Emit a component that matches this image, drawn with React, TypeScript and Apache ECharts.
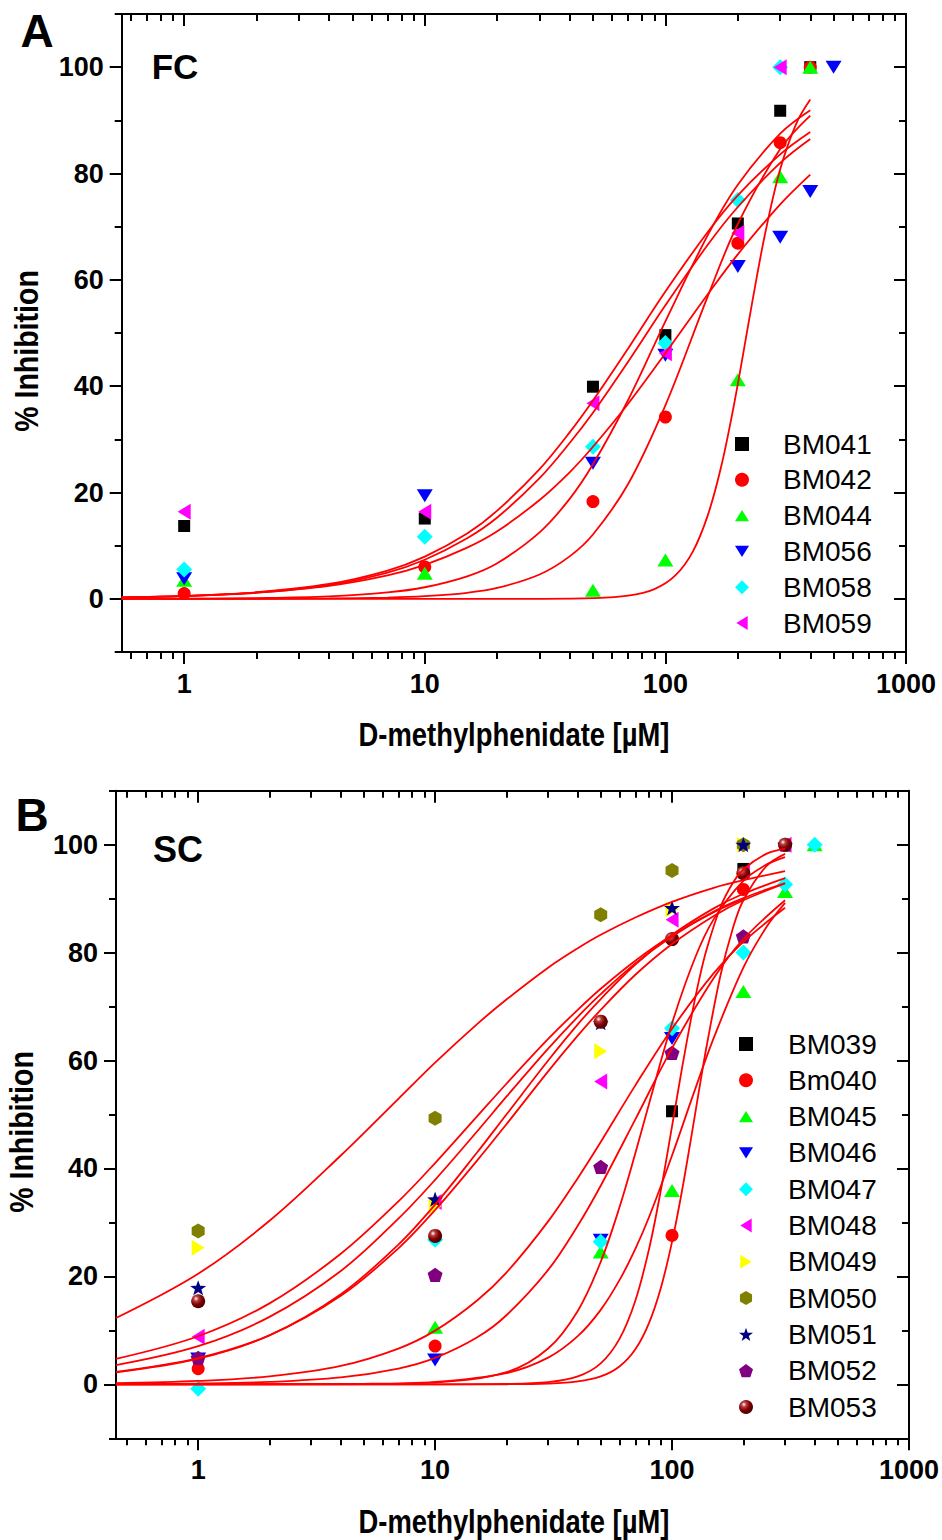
import React, { useEffect, useRef } from 'react';
import * as echarts from 'echarts';

// ---------------- Panel A (FC) measured data ----------------
const FC_NAMES = ['BM041', 'BM042', 'BM044', 'BM056', 'BM058', 'BM059'];
const FC_BM041_X = [1, 10, 50, 100, 200, 300, 400];
const FC_BM041_Y = [13.7, 15.1, 39.9, 49.6, 70.6, 91.8, 100];
const FC_BM042_X = [1, 10, 50, 100, 200, 300, 400];
const FC_BM042_Y = [1.0, 6.0, 18.3, 34.2, 66.9, 85.8, 100];
const FC_BM044_X = [1, 10, 50, 100, 200, 300, 400];
const FC_BM044_Y = [3.5, 4.8, 1.6, 7.3, 41.2, 79.4, 100];
const FC_BM056_X = [1, 10, 50, 100, 200, 300, 400, 500];
const FC_BM056_Y = [3.8, 19.4, 25.5, 45.8, 62.5, 68.0, 76.6, 100];
const FC_BM058_X = [1, 10, 50, 100, 200, 300];
const FC_BM058_Y = [5.5, 11.7, 28.6, 48.1, 75.0, 100];
const FC_BM059_X = [1, 10, 50, 100, 200, 300];
const FC_BM059_Y = [16.4, 16.4, 36.8, 46.2, 68.8, 100];

// Panel A fitted curves
const FC_FIT_X = [0.55, 1, 2, 4, 7, 10, 15, 20, 30, 40, 50, 70, 100, 150, 200, 300, 400];
const FC_FIT1_Y = [0.27, 0.54, 1.24, 2.79, 5.32, 7.95, 12.3, 16.6, 24.4, 31.3, 37.3, 47.1, 57.8, 69.0, 75.9, 83.6, 87.8];
const FC_FIT2_Y = [0.25, 0.51, 1.16, 2.6, 4.95, 7.36, 11.4, 15.3, 22.7, 29.3, 35.0, 44.6, 55.2, 66.6, 73.7, 82.0, 86.5];
const FC_FIT3_Y = [0.28, 0.54, 1.15, 2.43, 4.4, 6.38, 9.62, 12.7, 18.6, 23.8, 28.6, 36.7, 46.2, 57.3, 64.8, 74.2, 79.8];
const FC_FIT4_Y = [0.02, 0.05, 0.15, 0.47, 1.2, 2.18, 4.24, 6.7, 12.5, 18.8, 25.3, 37.4, 52.2, 68.4, 77.9, 87.5, 91.9];
const FC_FIT5_Y = [0.0, 0.0, 0.02, 0.08, 0.24, 0.5, 1.14, 2.04, 4.58, 7.99, 12.1, 21.6, 36.4, 56.9, 70.5, 84.6, 90.9];
const FC_FIT6_X = [0.55, 10, 30, 50, 70, 90, 110, 130, 150, 170, 190, 210, 230, 260, 300, 350, 400];
const FC_FIT6_Y = [0.0, 0.0, 0.01, 0.13, 0.6, 1.83, 4.4, 8.89, 15.7, 24.6, 35.0, 45.8, 56.0, 68.8, 80.8, 89.4, 93.9];

// ---------------- Panel B (SC) measured data ----------------
const SC_NAMES = ['BM039', 'Bm040', 'BM045', 'BM046', 'BM047', 'BM048', 'BM049', 'BM050', 'BM051', 'BM052', 'BM053'];
const SC_BM039_X = [100, 200];
const SC_BM039_Y = [50.6, 95.5];
const SC_BM040_X = [1, 10, 100, 200];
const SC_BM040_Y = [2.9, 7.1, 27.6, 91.7];
const SC_BM045_X = [10, 50, 100, 200, 300, 400];
const SC_BM045_Y = [10.6, 24.5, 35.9, 72.8, 91.3, 100];
const SC_BM046_X = [1, 10, 50, 100];
const SC_BM046_Y = [4.7, 4.5, 26.7, 64.1];
const SC_BM047_X = [1, 10, 50, 100, 200, 300, 400];
const SC_BM047_Y = [-0.8, 26.8, 26.4, 66.0, 80.0, 92.6, 100];
const SC_BM048_X = [1, 10, 50, 100, 200, 300];
const SC_BM048_Y = [8.8, 33.8, 56.1, 86.1, 95.0, 100];
const SC_BM049_X = [1, 10, 50, 100, 200];
const SC_BM049_Y = [25.3, 33.0, 61.7, 88.0, 100];
const SC_BM050_X = [1, 10, 50, 100, 200];
const SC_BM050_Y = [28.4, 49.3, 87.0, 95.2, 100];
const SC_BM051_X = [1, 10, 50, 100, 200];
const SC_BM051_Y = [17.9, 34.3, 67.0, 88.3, 100];
const SC_BM052_X = [1, 10, 50, 100, 200, 300];
const SC_BM052_Y = [4.9, 20.3, 40.3, 61.4, 83.0, 100];
const SC_BM053_X = [1, 10, 50, 100, 200, 300];
const SC_BM053_Y = [15.4, 27.5, 67.2, 82.5, 94.7, 100];

// Panel B fitted curves
const SC_FIT_X = [0.45, 1, 2, 4, 7, 10, 15, 20, 30, 40, 50, 70, 100, 150, 200, 300];
const SC_FIT_OLIVE_Y = [12.3, 20.5, 30.3, 42.4, 52.9, 59.6, 66.7, 71.3, 77.2, 80.8, 83.3, 86.5, 89.4, 92.0, 93.4, 95.1];
const SC_FIT_STAR_X = [0.45, 1, 2, 4, 7, 10, 15, 20, 30, 40, 50, 70, 100, 150, 200];
const SC_FIT_STAR_Y = [4.72, 8.91, 15.0, 24.2, 33.9, 41.0, 49.6, 55.7, 64.0, 69.4, 73.3, 78.5, 83.2, 87.5, 89.9];
const SC_FIT_YELLOW_Y = [3.57, 7.08, 12.5, 21.0, 30.7, 37.9, 46.8, 53.3, 62.2, 68.1, 72.3, 78.0, 83.0, 87.6, 90.1, 92.9];
const SC_FIT_MAGENTA_Y = [2.2, 4.76, 9.09, 16.7, 25.9, 33.3, 42.9, 50.0, 60.0, 66.7, 71.4, 77.8, 83.3, 88.2, 90.9, 93.8];
const SC_FIT_SPHERE_Y = [2.3, 4.85, 9.08, 16.4, 25.2, 32.3, 41.4, 48.2, 58.0, 64.6, 69.4, 75.9, 81.6, 86.8, 89.7, 92.8];
const SC_FIT_PURPLE_Y = [0.23, 0.63, 1.48, 3.42, 6.63, 9.95, 15.5, 20.7, 30.2, 38.2, 44.9, 55.4, 65.9, 76.2, 82.0, 88.3];
const SC_FIT_BLUE_Y = [0.05, 0.16, 0.45, 1.28, 2.92, 4.89, 8.66, 12.8, 21.2, 29.4, 36.8, 49.1, 62.3, 75.3, 82.5, 89.7];
const SC_FIT_X2 = [0.45, 5, 10, 20, 30, 40, 50, 60, 70, 80, 100, 125, 150, 200, 250, 300];
const SC_FIT_CYAN_Y = [0.0, 0.05, 0.33, 2.25, 6.63, 13.6, 22.7, 32.8, 42.8, 52.0, 66.9, 79.0, 86.2, 93.3, 96.3, 97.7];
const SC_FIT_GREEN_Y = [0.0, 0.1, 0.46, 2.09, 4.94, 8.92, 13.8, 19.3, 25.1, 31.0, 42.4, 54.6, 64.2, 77.2, 84.7, 89.2];
const SC_FIT_X3 = [0.45, 5, 10, 20, 30, 40, 50, 60, 70, 80, 90, 100, 110, 120, 130, 140, 160, 180, 200, 250, 300];
const SC_FIT_RED_Y = [0.0, 0.0, 0.0, 0.02, 0.14, 0.53, 1.46, 3.31, 6.49, 11.4, 18.1, 26.4, 35.7, 45.3, 54.5, 62.7, 75.7, 84.3, 89.7, 96.0, 98.3];
const SC_FIT_BLACK_Y = [0.0, 0.0, 0.0, 0.07, 0.4, 1.46, 3.89, 8.42, 15.5, 25.1, 36.3, 47.8, 58.4, 67.5, 74.9, 80.6, 88.4, 92.8, 95.4, 98.3, 99.2];

// ---------------- Axes ticks ----------------
const X_MAJOR = [1, 10, 100, 1000];
const X_MINOR_ALL = [0.4, 0.5, 0.6, 0.7, 0.8, 0.9, 2, 3, 4, 5, 6, 7, 8, 9, 20, 30, 40, 50, 60, 70, 80, 90, 200, 300, 400, 500, 600, 700, 800, 900];
const Y_MAJOR = [0, 20, 40, 60, 80, 100];
const FC_XMIN = 0.55;
const SC_XMIN = 0.45;

const FONT = "'Liberation Sans', Arial, Helvetica, sans-serif";

const HEXAGON = 'path://M0,-10 L8.66,-5 L8.66,5 L0,10 L-8.66,5 L-8.66,-5 Z';
const PENTAGON = 'path://M0,-10 L9.511,-3.09 L5.878,8.09 L-5.878,8.09 L-9.511,-3.09 Z';
const STAR = 'path://M0,-10 L2.351,-3.236 L9.511,-3.09 L3.804,1.236 L5.878,8.09 L0,4 L-5.878,8.09 L-3.804,1.236 L-9.511,-3.09 L-2.351,-3.236 Z';
const TRI_UP = 'path://M0,-6.5 L8,6.5 L-8,6.5 Z';
const TRI_DOWN = 'path://M-8,-6.5 L8,-6.5 L0,6.5 Z';
const TRI_LEFT = 'path://M6.5,-8 L6.5,8 L-6.5,0 Z';
const TRI_RIGHT = 'path://M-6.5,-8 L-6.5,8 L6.5,0 Z';
const SQUARE = 'path://M-6,-6 L6,-6 L6,6 L-6,6 Z';
const DIAMOND = 'path://M0,-8 L8,0 L0,8 L-8,0 Z';

const SPHERE = {
  type: 'radial', x: 0.35, y: 0.32, r: 0.7,
  colorStops: [
    { offset: 0, color: '#ffffff' },
    { offset: 0.25, color: '#b84040' },
    { offset: 0.6, color: '#800000' },
    { offset: 1, color: '#4a0000' },
  ],
};

const pts = (xs: number[], ys: number[]) => xs.map((x, i) => [x, ys[i]]);

function scatter(name: string, xs: number[], ys: number[], symbol: string, size: any, color: any, rotate: number, axis: number, keep = false) {
  return {
    type: 'scatter', name, data: pts(xs, ys), symbol, symbolSize: size, symbolRotate: rotate,
    symbolKeepAspect: keep,
    itemStyle: { color, opacity: 1 },
    xAxisIndex: axis, yAxisIndex: axis, z: 3, silent: true,
    emphasis: { disabled: true },
  };
}

function fit(name: string, xs: number[], ys: number[], axis: number) {
  return {
    type: 'line', name, data: pts(xs, ys), showSymbol: false, symbol: 'none', smooth: 0.35,
    lineStyle: { color: '#FF0000', width: 1.8 },
    xAxisIndex: axis, yAxisIndex: axis, z: 4, silent: true,
    emphasis: { disabled: true },
  };
}

const AXIS_LINE = { show: true, onZero: false, lineStyle: { color: '#000', width: 2 } };
const NO_LINE = { show: false, onZero: false };
const TICK_STYLE = { color: '#000', width: 2 };
const LABEL_FONT = { color: '#000', fontFamily: FONT, fontWeight: 'bold', fontSize: 27 };

function xAxes(grid: number, min: number) {
  const minor = X_MINOR_ALL.filter((v) => v > min);
  const base = { type: 'log', logBase: 10, min, max: 1000, gridIndex: grid, splitLine: { show: false }, minorTick: { show: false } };
  return [
    {
      ...base, position: 'bottom', axisLine: AXIS_LINE,
      axisTick: { show: true, inside: false, length: 12, lineStyle: TICK_STYLE, customValues: X_MAJOR },
      axisLabel: {
        show: true, customValues: X_MAJOR, margin: 18.5, ...LABEL_FONT,
        formatter: (v: number) => String(Math.round(v)),
      },
    },
    {
      ...base, position: 'bottom', axisLine: NO_LINE,
      axisTick: { show: true, inside: false, length: 7, lineStyle: TICK_STYLE, customValues: minor },
      axisLabel: { show: false },
    },
    {
      ...base, position: 'top', axisLine: AXIS_LINE,
      axisTick: { show: true, inside: true, length: 12, lineStyle: TICK_STYLE, customValues: X_MAJOR },
      axisLabel: { show: false },
    },
    {
      ...base, position: 'top', axisLine: NO_LINE,
      axisTick: { show: true, inside: true, length: 7, lineStyle: TICK_STYLE, customValues: minor },
      axisLabel: { show: false },
    },
  ];
}

function yAxes(grid: number) {
  const base = { type: 'value', min: -10, max: 110, gridIndex: grid, splitLine: { show: false } };
  return [
    {
      ...base, position: 'left', axisLine: AXIS_LINE,
      axisTick: { show: true, inside: false, length: 12, lineStyle: TICK_STYLE, customValues: Y_MAJOR },
      axisLabel: { show: true, customValues: Y_MAJOR, margin: 18, ...LABEL_FONT },
    },
    {
      ...base, position: 'left', interval: 10, axisLine: NO_LINE,
      axisTick: { show: true, inside: false, length: 7, lineStyle: TICK_STYLE },
      axisLabel: { show: false },
    },
    {
      ...base, position: 'right', axisLine: AXIS_LINE,
      axisTick: { show: true, inside: true, length: 12, lineStyle: TICK_STYLE, customValues: Y_MAJOR },
      axisLabel: { show: false },
    },
    {
      ...base, position: 'right', interval: 10, axisLine: NO_LINE,
      axisTick: { show: true, inside: true, length: 7, lineStyle: TICK_STYLE },
      axisLabel: { show: false },
    },
  ];
}

function legend(items: any[], left: number, top: number, gap: number, pad: number) {
  return {
    data: items, orient: 'vertical', left, top, padding: 0, itemWidth: 14, itemHeight: 14, itemGap: gap,
    selectedMode: false,
    textStyle: { fontFamily: FONT, fontSize: 28, color: '#000', padding: [0, 0, 0, pad] },
  };
}

function text(t: string, x: number, y: number, font: string, rotation = 0, scaleX = 1) {
  return {
    type: 'text', x, y, rotation, scaleX, silent: true,
    style: { text: t, font, fill: '#000', textAlign: 'center', textVerticalAlign: 'middle' },
  };
}

function buildOption() {
  const series: any[] = [
    // Panel A fits
    fit('FC fit 1', FC_FIT_X, FC_FIT1_Y, 0),
    fit('FC fit 2', FC_FIT_X, FC_FIT2_Y, 0),
    fit('FC fit 3', FC_FIT_X, FC_FIT3_Y, 0),
    fit('FC fit 4', FC_FIT_X, FC_FIT4_Y, 0),
    fit('FC fit 5', FC_FIT_X, FC_FIT5_Y, 0),
    fit('FC fit 6', FC_FIT6_X, FC_FIT6_Y, 0),
    // Panel A points
    scatter('BM041', FC_BM041_X, FC_BM041_Y, 'rect', 12, '#000000', 0, 0),
    scatter('BM042', FC_BM042_X, FC_BM042_Y, 'circle', 13, '#FF0000', 0, 0),
    scatter('BM044', FC_BM044_X, FC_BM044_Y, 'triangle', [16, 13], '#00FF00', 0, 0),
    scatter('BM056', FC_BM056_X, FC_BM056_Y, 'triangle', [16, 13], '#0000FF', 180, 0),
    scatter('BM058', FC_BM058_X, FC_BM058_Y, 'diamond', [16, 16], '#00FFFF', 0, 0),
    scatter('BM059', FC_BM059_X, FC_BM059_Y, 'triangle', [16, 13], '#FF00FF', 90, 0),
    // Panel B fits
    fit('SC fit olive', SC_FIT_X, SC_FIT_OLIVE_Y, 4),
    fit('SC fit star', SC_FIT_STAR_X, SC_FIT_STAR_Y, 4),
    fit('SC fit yellow', SC_FIT_X, SC_FIT_YELLOW_Y, 4),
    fit('SC fit magenta', SC_FIT_X, SC_FIT_MAGENTA_Y, 4),
    fit('SC fit sphere', SC_FIT_X, SC_FIT_SPHERE_Y, 4),
    fit('SC fit purple', SC_FIT_X, SC_FIT_PURPLE_Y, 4),
    fit('SC fit blue', SC_FIT_X, SC_FIT_BLUE_Y, 4),
    fit('SC fit cyan', SC_FIT_X2, SC_FIT_CYAN_Y, 4),
    fit('SC fit green', SC_FIT_X2, SC_FIT_GREEN_Y, 4),
    fit('SC fit red', SC_FIT_X3, SC_FIT_RED_Y, 4),
    fit('SC fit black', SC_FIT_X3, SC_FIT_BLACK_Y, 4),
    // Panel B points
    scatter('BM039', SC_BM039_X, SC_BM039_Y, 'rect', 12, '#000000', 0, 4),
    scatter('Bm040', SC_BM040_X, SC_BM040_Y, 'circle', 13, '#FF0000', 0, 4),
    scatter('BM045', SC_BM045_X, SC_BM045_Y, 'triangle', [16, 13], '#00FF00', 0, 4),
    scatter('BM046', SC_BM046_X, SC_BM046_Y, 'triangle', [16, 13], '#0000FF', 180, 4),
    scatter('BM047', SC_BM047_X, SC_BM047_Y, 'diamond', [16, 16], '#00FFFF', 0, 4),
    scatter('BM048', SC_BM048_X, SC_BM048_Y, 'triangle', [16, 13], '#FF00FF', 90, 4),
    scatter('BM049', SC_BM049_X, SC_BM049_Y, 'triangle', [16, 13], '#FFFF00', -90, 4),
    scatter('BM050', SC_BM050_X, SC_BM050_Y, HEXAGON, 15, '#808000', 0, 4, true),
    scatter('BM051', SC_BM051_X, SC_BM051_Y, STAR, 16, '#000080', 0, 4, true),
    scatter('BM052', SC_BM052_X, SC_BM052_Y, PENTAGON, 15, '#800080', 0, 4, true),
    scatter('BM053', SC_BM053_X, SC_BM053_Y, 'circle', 14, SPHERE, 0, 4),
  ];

  const FC_ICONS = [SQUARE, 'circle', TRI_UP, TRI_DOWN, DIAMOND, TRI_LEFT];
  const SC_ICONS = [SQUARE, 'circle', TRI_UP, TRI_DOWN, DIAMOND, TRI_LEFT, TRI_RIGHT, HEXAGON, STAR, PENTAGON, 'circle'];

  return {
    animation: false,
    backgroundColor: '#ffffff',
    grid: [
      { left: 121.7, top: 14, width: 784.3, height: 638 },
      { left: 116, top: 790.7, width: 796.7, height: 647.6 },
    ],
    xAxis: [...xAxes(0, FC_XMIN), ...xAxes(1, SC_XMIN)],
    yAxis: [...yAxes(0), ...yAxes(1)],
    legend: [
      legend(FC_NAMES.map((n, i) => ({ name: n, icon: FC_ICONS[i] })), 735, 430, 7.8, 29),
      legend(SC_NAMES.map((n, i) => ({ name: n, icon: SC_ICONS[i] })), 739, 1030, 8.3, 30),
    ],
    graphic: [
      text('A', 37, 31, `bold 46px ${FONT}`),
      text('B', 32, 815, `bold 46px ${FONT}`),
      text('FC', 175, 66, `bold 35px ${FONT}`),
      text('SC', 178, 849, `bold 36px ${FONT}`),
      text('D-methylphenidate [µM]', 514, 735, `bold 33px ${FONT}`, 0, 0.83),
      text('D-methylphenidate [µM]', 514, 1522, `bold 33px ${FONT}`, 0, 0.83),
      text('% Inhibition', 27, 351, `bold 34px ${FONT}`, Math.PI / 2, 0.84),
      text('% Inhibition', 22, 1132, `bold 34px ${FONT}`, Math.PI / 2, 0.84),
    ],
    series,
  };
}

export default function App() {
  const ref = useRef<HTMLDivElement>(null);
  useEffect(() => {
    if (!ref.current) return;
    const chart = echarts.init(ref.current, null, { renderer: 'svg' });
    chart.setOption(buildOption() as any);
    return () => chart.dispose();
  }, []);
  return (
    <div
      ref={ref}
      style={{ position: 'absolute', left: 0, top: 0, width: 942, height: 1540, background: '#ffffff' }}
    />
  );
}
